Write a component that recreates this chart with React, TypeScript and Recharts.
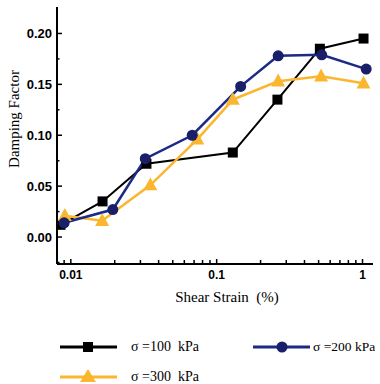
import React from "react";
import { LineChart, Line, XAxis, YAxis } from "recharts";

const strain100 = [0.0085, 0.0165, 0.033, 0.129, 0.261, 0.51, 1.016];
const damp100 = [0.012, 0.035, 0.072, 0.083, 0.135, 0.185, 0.195];

const strain200 = [0.009, 0.0194, 0.0324, 0.068, 0.146, 0.264, 0.525, 1.06];
const damp200 = [0.014, 0.027, 0.077, 0.1, 0.148, 0.178, 0.179, 0.165];

const strain300 = [0.0091, 0.0164, 0.0351, 0.0736, 0.129, 0.264, 0.52, 1.016];
const damp300 = [0.021, 0.016, 0.051, 0.096, 0.135, 0.153, 0.158, 0.151];

const xTicks = [0.009, 0.01, 0.02, 0.03, 0.04, 0.05, 0.06, 0.07, 0.08, 0.09, 0.1, 0.2, 0.3, 0.4, 0.5, 0.6, 0.7, 0.8, 0.9, 1];
const xMajor = [0.01, 0.1, 1];
const yTicks = [-0.025, 0, 0.025, 0.05, 0.075, 0.1, 0.125, 0.15, 0.175, 0.2];

const legendLabels = ["σ =100  kPa", "σ =200 kPa", "σ =300  kPa"];

const BLACK = "#000000";
const BLUE = "#1b2a86";
const BLUE_DOT = "#1a1f6a";
const ORANGE = "#fbb62f";

const toRows = (xs: number[], ys: number[]) => xs.map((x, i) => ({ x, y: ys[i] }));

const XTick = (props: any) => {
  const { x, y, payload } = props;
  const v = payload.value;
  const major = xMajor.some((m) => Math.abs(m - v) < 1e-9);
  return (
    <g>
      <line x1={x} x2={x} y1={y} y2={y - (major ? 5 : 4)} stroke="#000" strokeWidth={1.5} />
      {major && (
        <text x={x} y={y + 15} textAnchor="middle" fontFamily="Liberation Sans, Arial" fontWeight="bold" fontSize={12} fill="#000">
          {String(v)}
        </text>
      )}
    </g>
  );
};

const YTick = (props: any) => {
  const { x, y, payload } = props;
  const v = payload.value;
  const major = Math.abs(v * 20 - Math.round(v * 20)) < 1e-6;
  return (
    <g>
      <line x1={x} x2={x + (major ? 5 : 2.5)} y1={y} y2={y} stroke="#000" strokeWidth={1.5} />
      {major && (
        <text x={x - 5} y={y + 4.5} textAnchor="end" fontFamily="Liberation Sans, Arial" fontWeight="bold" fontSize={13} fill="#000">
          {v.toFixed(2)}
        </text>
      )}
    </g>
  );
};

const SquareDot = (props: any) => {
  const { cx, cy, index } = props;
  return <rect key={"s" + index} x={cx - 5} y={cy - 5} width={10} height={10} fill={BLACK} />;
};
const CircleDot = (props: any) => {
  const { cx, cy, index } = props;
  return <circle key={"c" + index} cx={cx} cy={cy} r={5.5} fill={BLUE_DOT} />;
};
const TriDot = (props: any) => {
  const { cx, cy, index } = props;
  const s = 7;
  return (
    <polygon
      key={"t" + index}
      points={`${cx},${cy - s * 1.1} ${cx - s},${cy + s * 0.75} ${cx + s},${cy + s * 0.75}`}
      fill={ORANGE}
    />
  );
};

const LegendItem = ({ left, top, color, label, marker, gap, size }: any) => (
  <div style={{ position: "absolute", left, top, height: 20, display: "flex", alignItems: "center", whiteSpace: "pre" }}>
    <svg width={60} height={20} style={{ display: "block" }}>
      <line x1={1} x2={58} y1={10} y2={10} stroke={color} strokeWidth={3} />
      {marker === "square" && <rect x={24} y={5} width={10} height={10} fill={color} />}
      {marker === "circle" && <circle cx={30} cy={10} r={5.5} fill={BLUE_DOT} />}
      {marker === "tri" && <polygon points="29,2 21,15 37,15" fill={color} />}
    </svg>
    <span style={{ fontFamily: "Liberation Serif, Times New Roman", fontSize: size, color: "#000", marginLeft: gap }}>{label}</span>
  </div>
);

export default function App() {
  return (
    <div style={{ position: "absolute", left: 0, top: 0, width: 380, height: 384, background: "#fff", overflow: "hidden" }}>
      <LineChart width={380} height={384} margin={{ top: 7, right: 7, left: 7, bottom: 90 }}>
        <XAxis
          dataKey="x"
          type="number"
          scale="log"
          domain={[0.00804, 1.18]}
          allowDataOverflow
          ticks={xTicks}
          interval={0}
          tick={<XTick />}
          tickLine={false}
          tickSize={0}
          tickMargin={0}
          height={30}
          axisLine={{ stroke: "#000", strokeWidth: 2 }}
        />
        <YAxis
          type="number"
          domain={[-0.0265, 0.226]}
          allowDataOverflow
          ticks={yTicks}
          interval={0}
          tick={<YTick />}
          tickLine={false}
          tickSize={0}
          tickMargin={0}
          width={50}
          axisLine={{ stroke: "#000", strokeWidth: 2 }}
        />
        <Line data={toRows(strain100, damp100)} dataKey="y" stroke={BLACK} strokeWidth={2} dot={<SquareDot />} isAnimationActive={false} />
        <Line data={toRows(strain300, damp300)} dataKey="y" stroke={ORANGE} strokeWidth={2.5} dot={<TriDot />} isAnimationActive={false} />
        <Line data={toRows(strain200, damp200)} dataKey="y" stroke={BLUE} strokeWidth={2.5} dot={<CircleDot />} isAnimationActive={false} />
      </LineChart>
      <svg width={380} height={384} style={{ position: "absolute", left: 0, top: 0, pointerEvents: "none" }}>
        <text x={19} y={119} transform="rotate(-90 19 119)" textAnchor="middle" fontFamily="Liberation Serif, Times New Roman" fontSize={15} fill="#000">
          Damping Factor
        </text>
        <text x={227} y={302} textAnchor="middle" fontFamily="Liberation Serif, Times New Roman" fontSize={15} fill="#000" style={{ whiteSpace: "pre" }}>
          {"Shear Strain  (%)"}
        </text>
      </svg>
      <LegendItem left={59} top={337} color={BLACK} label={legendLabels[0]} marker="square" gap={12} size={14} />
      <LegendItem left={252} top={337} color={BLUE} label={legendLabels[1]} marker="circle" gap={1} size={13.5} />
      <LegendItem left={59} top={367} color={ORANGE} label={legendLabels[2]} marker="tri" gap={12} size={14} />
    </div>
  );
}
